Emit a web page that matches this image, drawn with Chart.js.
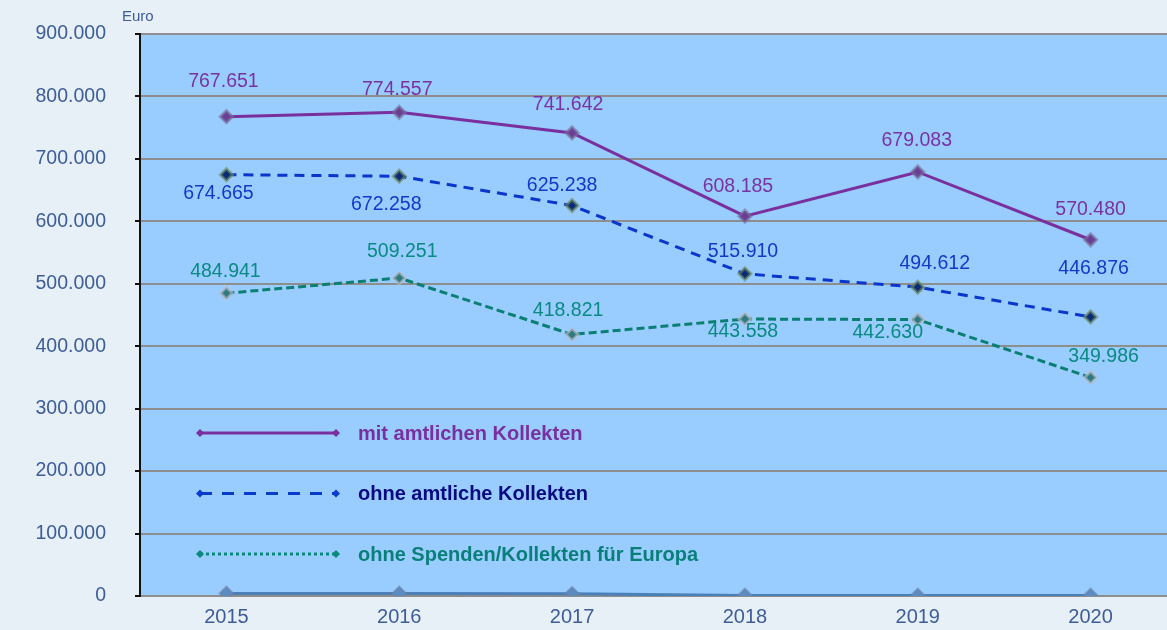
<!DOCTYPE html>
<html>
<head>
<meta charset="utf-8">
<script src="https://cdnjs.cloudflare.com/ajax/libs/Chart.js/4.4.1/chart.umd.js"></script>
<style>
  html, body { margin: 0; padding: 0; background: #e6f0f6; overflow: hidden; }
  canvas { display: block; }
</style>
</head>
<body>
<canvas id="chart" width="1178" height="630"></canvas>
<script>
// data
const years = ["2015", "2016", "2017", "2018", "2019", "2020"];
const mitKollekten = [767651, 774557, 741642, 608185, 679083, 570480];
const ohneKollekten = [674665, 672258, 625238, 515910, 494612, 446876];
const ohneEuropa = [484941, 509251, 418821, 443558, 442630, 349986];
const basisReihe = [4000, 4000, 3500, 1000, 1000, 1000];
const yTicks = [0, 100000, 200000, 300000, 400000, 500000, 600000, 700000, 800000, 900000];

const legendItems = [
  { text: "mit amtlichen Kollekten", color: "#7a2f9e", textColor: "#7a2f9e", dash: [] },
  { text: "ohne amtliche Kollekten", color: "#0a3ccc", textColor: "#0a0a80", dash: [12, 10] },
  { text: "ohne Spenden/Kollekten für Europa", color: "#0a8a7a", textColor: "#0a7f7a", dash: [3, 3] },
];

function fmt(v) {
  // German thousands separator
  return String(Math.round(v)).replace(/\B(?=(\d{3})+(?!\d))/g, ".");
}

const FONT = "'Liberation Sans', Arial, sans-serif";

// plot background fill
const plotBg = {
  id: "plotBg",
  beforeDraw(chart) {
    const { ctx, chartArea: a } = chart;
    ctx.save();
    ctx.fillStyle = "#99ccff";
    ctx.fillRect(a.left, a.top, a.right - a.left, a.bottom - a.top);
    ctx.restore();
  },
};

// value labels next to the points
const valueLabels = {
  id: "valueLabels",
  afterDatasetsDraw(chart) {
    const ctx = chart.ctx;
    ctx.save();
    ctx.font = "19.5px " + FONT;
    ctx.textAlign = "center";
    ctx.textBaseline = "middle";
    chart.data.datasets.forEach((ds, i) => {
      if (!ds.labelColor) return;
      const meta = chart.getDatasetMeta(i);
      ctx.fillStyle = ds.labelColor;
      meta.data.forEach((pt, j) => {
        ctx.fillText(fmt(ds.data[j]), pt.x + ds.labelDx[j], pt.y + ds.labelDy[j]);
      });
    });
    ctx.restore();
  },
};

// custom legend drawn inside the plot + "Euro" unit label
const innerLegend = {
  id: "innerLegend",
  afterDraw(chart) {
    const ctx = chart.ctx;
    const a = chart.chartArea;
    ctx.save();
    ctx.font = "15px " + FONT;
    ctx.fillStyle = "#3d5c99";
    ctx.textAlign = "left";
    ctx.textBaseline = "middle";
    ctx.fillText("Euro", 122, 17);

    const x0 = a.left + 60, x1 = a.left + 196;
    legendItems.forEach((it, k) => {
      const y = 433 + k * 60.5;
      ctx.strokeStyle = it.color;
      ctx.lineWidth = 3;
      ctx.setLineDash(it.dash);
      ctx.beginPath();
      ctx.moveTo(x0, y);
      ctx.lineTo(x1, y);
      ctx.stroke();
      ctx.setLineDash([]);
      ctx.fillStyle = it.color;
      [x0, x1].forEach((x) => {
        ctx.beginPath();
        ctx.moveTo(x - 4, y);
        ctx.lineTo(x, y - 4);
        ctx.lineTo(x + 4, y);
        ctx.lineTo(x, y + 4);
        ctx.closePath();
        ctx.fill();
      });
      ctx.font = "bold 20px " + FONT;
      ctx.fillStyle = it.textColor;
      ctx.fillText(it.text, a.left + 218, y + 1);
    });
    ctx.restore();
  },
};

const ctx = document.getElementById("chart").getContext("2d");
new Chart(ctx, {
  type: "line",
  data: {
    labels: years,
    datasets: [
      {
        label: "basis",
        data: basisReihe,
        borderColor: "#4a80b8",
        borderWidth: 3,
        pointStyle: "rectRot",
        pointRadius: 7,
        pointBackgroundColor: "#5b8cc2",
        pointBorderColor: "rgba(110,130,160,0.5)",
        pointBorderWidth: 2,
      },
      {
        label: "ohne Spenden/Kollekten für Europa",
        data: ohneEuropa,
        borderColor: "#0a7f72",
        borderWidth: 3,
        borderDash: [8, 4],
        pointStyle: "rectRot",
        pointRadius: 6,
        pointBackgroundColor: "#2f7a80",
        pointBorderColor: "rgba(190,190,200,0.6)",
        pointBorderWidth: 3,
        labelColor: "#0a8a80",
        labelDx: [-1, 3, -4, -2, -30, 13],
        labelDy: [-22, -26, -24, 13, 13, -21],
      },
      {
        label: "ohne amtliche Kollekten",
        data: ohneKollekten,
        borderColor: "#0a36cc",
        borderWidth: 3,
        borderDash: [10, 7],
        pointStyle: "rectRot",
        pointRadius: 6,
        pointBackgroundColor: "#0a2a7a",
        pointBorderColor: "rgba(110,140,90,0.6)",
        pointBorderWidth: 3,
        labelColor: "#1438c8",
        labelDx: [-8, -13, -10, -2, 17, 3],
        labelDy: [19, 28, -20, -22, -24, -48],
      },
      {
        label: "mit amtlichen Kollekten",
        data: mitKollekten,
        borderColor: "#7a2f9e",
        borderWidth: 3,
        pointStyle: "rectRot",
        pointRadius: 6,
        pointBackgroundColor: "#6a3d96",
        pointBorderColor: "rgba(120,110,150,0.6)",
        pointBorderWidth: 3,
        labelColor: "#7a32a2",
        labelDx: [-3, -2, -4, -7, -1, 0],
        labelDy: [-35, -23, -28, -30, -31, -30],
      },
    ],
  },
  options: {
    responsive: false,
    animation: false,
    events: [],
    layout: { autoPadding: false, padding: { top: 34, right: 1, left: 0, bottom: 0 } },
    plugins: {
      legend: { display: false },
      tooltip: { enabled: false },
    },
    scales: {
      x: {
        offset: true,
        grid: { display: false },
        border: { display: false },
        ticks: { color: "#3d5c99", font: { family: FONT, size: 20 }, padding: 1 },
        afterFit(scale) {
          scale.height = 34;
          scale.paddingLeft = 0;
          scale.paddingRight = 0;
        },
      },
      y: {
        min: 0,
        max: 900000,
        afterBuildTicks(scale) { scale.ticks = yTicks.map((v) => ({ value: v })); },
        grid: { color: "#8e8e8e", lineWidth: 2, tickColor: "#111", tickLength: 5, tickWidth: 2 },
        border: { display: true, color: "#111", width: 2 },
        ticks: {
          color: "#3d5c99",
          font: { family: FONT, size: 19.5 },
          padding: 29,
          callback: (v) => fmt(v),
        },
        afterFit(scale) {
          scale.width = 140;
          scale.paddingTop = 0;
          scale.paddingBottom = 0;
        },
      },
    },
  },
  plugins: [plotBg, valueLabels, innerLegend],
});
</script>
</body>
</html>
